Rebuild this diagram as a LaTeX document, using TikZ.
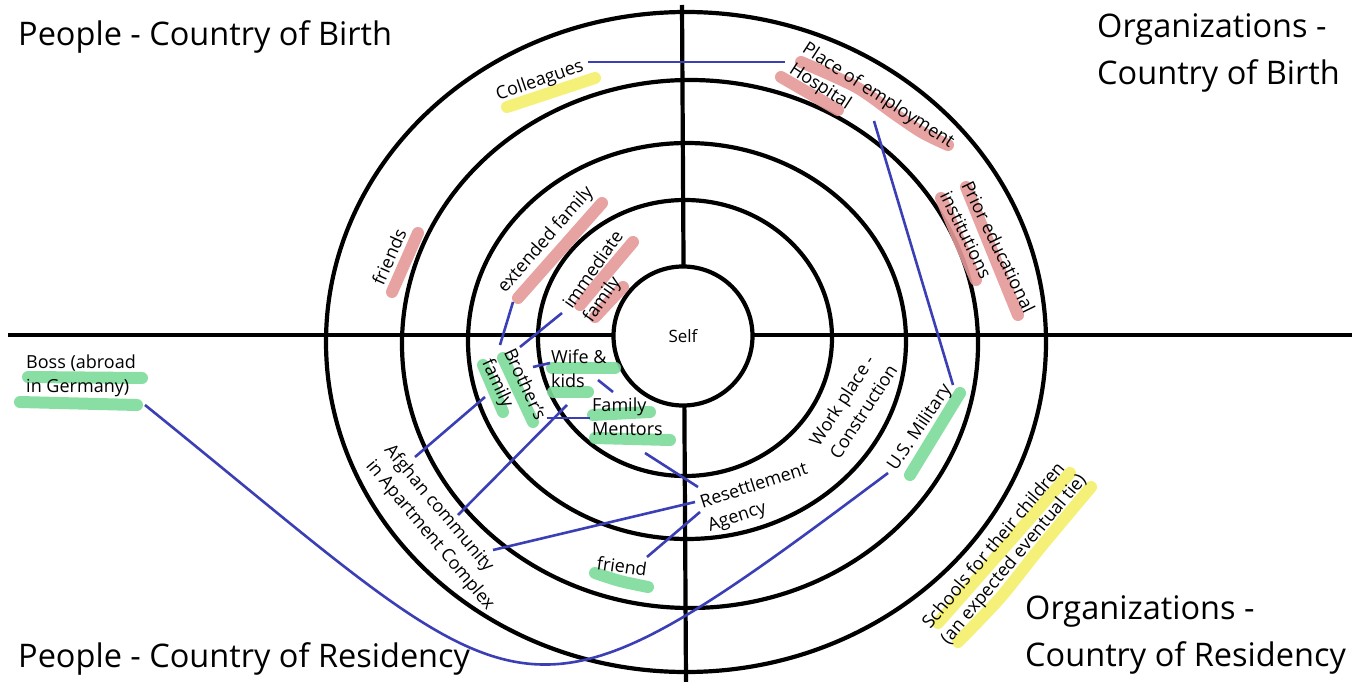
\documentclass[tikz,border=0pt]{standalone}
\usepackage{fontspec}
\setmainfont{Open Sans}
\definecolor{tieblue}{RGB}{59,63,181}
\definecolor{hlred}{RGB}{229,152,152}
\definecolor{hlgreen}{RGB}{125,220,154}
\definecolor{hlyellow}{RGB}{244,240,106}
\begin{document}
\begin{tikzpicture}[x=1pt,y=-1pt,
  ring/.style={line width=4.2pt},
  axisline/.style={line width=4.2pt},
  tie/.style={draw=tieblue,line width=2.6pt},
  hl/.style={line width=12pt,line cap=round,line join=round,opacity=0.9},
  hlr/.style={hl,draw=hlred},
  hlg/.style={hl,draw=hlgreen},
  hly/.style={hl,draw=hlyellow},
  lbl/.style={font=\fontsize{18}{24}\selectfont,inner sep=0pt,align=left},
  title/.style={font=\fontsize{32.5}{40}\selectfont,inner sep=0pt,anchor=base west}]
\useasboundingbox (0,0) rectangle (1365,682);
\fill[white] (0,0) rectangle (1365,682);

% axes
\draw[axisline] (8,335) -- (1352,335);
\draw[axisline] (682,5) -- (686,682);
% rings
\draw[ring] (686,342) ellipse [x radius=360pt, y radius=330pt];
\draw[ring] (690,344) ellipse [x radius=288pt, y radius=264pt];
\draw[ring] (687,341) ellipse [x radius=219pt, y radius=198pt];
\draw[ring] (685,338) ellipse [x radius=147pt, y radius=138pt];
\node (self) [draw, circle, minimum size=139pt, line width=4.2pt, fill=white, lbl, font=\fontsize{17}{20}\selectfont] at (683,336) {Self};

% highlights
\draw[hly] (507,107) -- (595,78);
\draw[hlr] (392,292) -- (418,233);
\draw[hlr] (518,298) -- (602,203);
\draw[hlr] (580,305) -- (633,242);
\draw[hlr] (595,317) -- (623,287);
\draw[hlr] plot[smooth] coordinates {(801,62) (856,87) (896,115) (923,133) (948,145)};
\draw[hlr] (781,77) -- (838,110);
\draw[hlr] (966,187) -- (1018,315);
\draw[hlr] (941,198) -- (976,280);
\draw[hlg] (28,377) -- (142,378);
\draw[hlg] (20,402) -- (137,405);
\draw[hlg] (483,365) -- (503,412);
\draw[hlg] (503,358) -- (533,422);
\draw[hlg] (552,368) -- (615,368);
\draw[hlg] (553,392) -- (588,392);
\draw[hlg] (593,415) -- (650,412);
\draw[hlg] (595,438) -- (670,440);
\draw[hlg] plot[smooth] coordinates {(595,573) (620,581) (648,587)};
\draw[hlg] (910,475) -- (960,393);
\draw[hly] (938,623) -- (1070,473);
\draw[hly] plot[smooth] coordinates {(958,642) (1000,598) (1040,548) (1091,487)};

% titles
\node (tl) [title] at (18,46) {People - Country of Birth};
\node (tr1) [title] at (1097,38) {Organizations -};
\node (tr2) [title] at (1097,85) {Country of Birth};
\node (bl) [title] at (18,667) {People - Country of Residency};
\node (br1) [title] at (1025,619) {Organizations -};
\node (br2) [title] at (1025,666) {Country of Residency};

% labels
\node (colleagues) [lbl, rotate=19] at (540,81) {Colleagues};
\node (friends) [lbl, rotate=66] at (389,257) {friends};
\node (extfam) [lbl, rotate=49] at (546,240) {extended family};
\node (immfam) [lbl, rotate=55] at (604,277) {immediate\\family};
\node (place) [lbl, rotate=-33] at (878,96) {Place of employment};
\node (hospital) [lbl, rotate=-33] at (820,87) {Hospital};
\node (prior) [lbl, rotate=-64] at (988,252) {Prior educational\\institutions};
\node (boss) [lbl, anchor=west] at (26,376) {Boss (abroad\\in Germany)};
\node (brother) [lbl, rotate=-65] at (513,390) {Brother's\\family};
\node (wife) [lbl, anchor=west] at (551,369) {Wife \&\\kids};
\node (mentors) [lbl, anchor=west] at (592,417) {Family\\Mentors};
\node (friend) [lbl, rotate=-8] at (622,566) {friend};
\node (afghan) [lbl, rotate=-50] at (439,528) {Afghan community\\in Apartment Complex};
\node (resettle) [lbl, rotate=18] at (758,498) {Resettlement\\Agency};
\node (work) [lbl, rotate=57] at (853,405) {Work place -\\Construction};
\node (military) [lbl, rotate=56] at (920,428) {U.S. Military};
\node (schools) [lbl, rotate=50] at (1005,552) {Schools for their children\\(an expected eventual tie)};

% connector end points
\coordinate (colleagues-e) at (588,62);
\coordinate (place-w) at (785,62);
\coordinate (hospital-s) at (874,121);
\coordinate (military-n) at (953,385);
\coordinate (military-w) at (888,473);
\coordinate (extfam-s) at (513,302);
\coordinate (brother-n1) at (500,345);
\coordinate (immfam-s) at (562,313);
\coordinate (brother-n2) at (520,347);
\coordinate (wife-w) at (550,363);
\coordinate (brother-e1) at (533,367);
\coordinate (kids-e) at (598,380);
\coordinate (mentors-n) at (613,392);
\coordinate (mentors-w) at (590,418);
\coordinate (brother-e2) at (547,418);
\coordinate (afghan-n1) at (415,457);
\coordinate (brother-s) at (485,397);
\coordinate (afghan-n2) at (458,515);
\coordinate (mentors-w2) at (567,405);
\coordinate (afghan-e) at (493,550);
\coordinate (resettle-w1) at (695,502);
\coordinate (mentors-s) at (645,453);
\coordinate (resettle-w2) at (698,487);
\coordinate (friend-e) at (647,557);
\coordinate (resettle-w3) at (700,512);
\coordinate (boss-se) at (145,405);

% ties
\draw[tie] (colleagues-e) -- (place-w);
\draw[tie] (hospital-s) -- (military-n);
\draw[tie] (extfam-s) -- (brother-n1);
\draw[tie] (immfam-s) -- (brother-n2);
\draw[tie] (wife-w) -- (brother-e1);
\draw[tie] (kids-e) -- (mentors-n);
\draw[tie] (mentors-w) -- (brother-e2);
\draw[tie] (afghan-n1) -- (brother-s);
\draw[tie] (afghan-n2) -- (mentors-w2);
\draw[tie] (afghan-e) -- (resettle-w1);
\draw[tie] (mentors-s) -- (resettle-w2);
\draw[tie] (friend-e) -- (resettle-w3);
\draw[tie] (boss-se) .. controls (535,720) and (512,755) .. (military-w);
\end{tikzpicture}
\end{document}
